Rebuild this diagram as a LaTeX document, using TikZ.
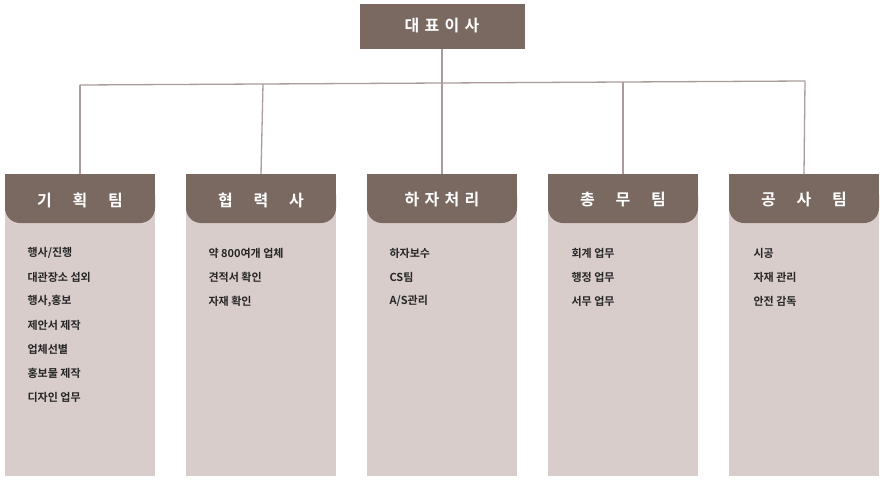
\documentclass[tikz,border=0pt]{standalone}
\usepackage{fontspec}
\newfontfamily\kr{Noto Sans CJK KR}[BoldFont={* Bold}]
\definecolor{dk}{HTML}{7A6961}
\definecolor{lt}{HTML}{D9CDCC}
\definecolor{ln}{HTML}{A99C9A}
\begin{document}
\begin{tikzpicture}[x=1pt,y=-1pt,
  hdr/.style={fill=dk,rounded corners=15pt},
  ttl/.style={text=white,font=\kr\bfseries\fontsize{16}{18}\selectfont},
  item/.style={anchor=west,font=\kr\bfseries\fontsize{11}{13}\selectfont,text=black!85},
  conn/.style={draw=ln,line width=1.3pt}]
\useasboundingbox (0,0) rectangle (884,482);
\node[fill=dk,minimum width=165pt,minimum height=45pt,inner sep=0,ttl] (top) at (442,26) {대\,\,표\,\,이\,\,사};
\foreach \x/\n in {5/1,186/2,367/3,548/4,729/5}{
  \fill[lt] (\x,210) rectangle ++(150,266);
  \fill[dk] (\x,174) rectangle ++(150,20);
  \fill[hdr] (\x,180) rectangle ++(150,43);
  \coordinate (h\n) at (\x+75,174);
}
\node[ttl] at (80,200) {기\hspace{1.3em}획\hspace{1.3em}팀};
\node[ttl] at (261,200) {협\hspace{1.3em}력\hspace{1.3em}사};
\node[ttl] at (442,200) {하\,\,자\,\,처\,\,리};
\node[ttl] at (623,200) {총\hspace{1.3em}무\hspace{1.3em}팀};
\node[ttl] at (804,200) {공\hspace{1.3em}사\hspace{1.3em}팀};
\coordinate (jl) at (80,85);
\coordinate (jr) at (805,81);
\draw[conn] (top.south) -- (h3);
\draw[conn] (jl) -- (jr);
\draw[conn] (jl) -- (h1);
\draw[conn] (jr) -- (h5);
\draw[conn] (263,84) -- (h2);
\draw[conn] (623,82) -- (h4);
\foreach \t [count=\i] in {행사/진행,대관장소 섭외,{행사,홍보},제안서 제작,업체선별,홍보물 제작,디자인 업무}
  \node[item] at (24,229+24*\i) {\t};
\foreach \t [count=\i] in {약 800여개 업체,견적서 확인,자재 확인}
  \node[item] at (205,229+24*\i) {\t};
\foreach \t [count=\i] in {하자보수,CS팀,A/S관리}
  \node[item] at (386,229+24*\i) {\t};
\foreach \t [count=\i] in {회계 업무,행정 업무,서무 업무}
  \node[item] at (568,229+24*\i) {\t};
\foreach \t [count=\i] in {시공,자재 관리,안전 감독}
  \node[item] at (750,229+24*\i) {\t};
\end{tikzpicture}
\end{document}
